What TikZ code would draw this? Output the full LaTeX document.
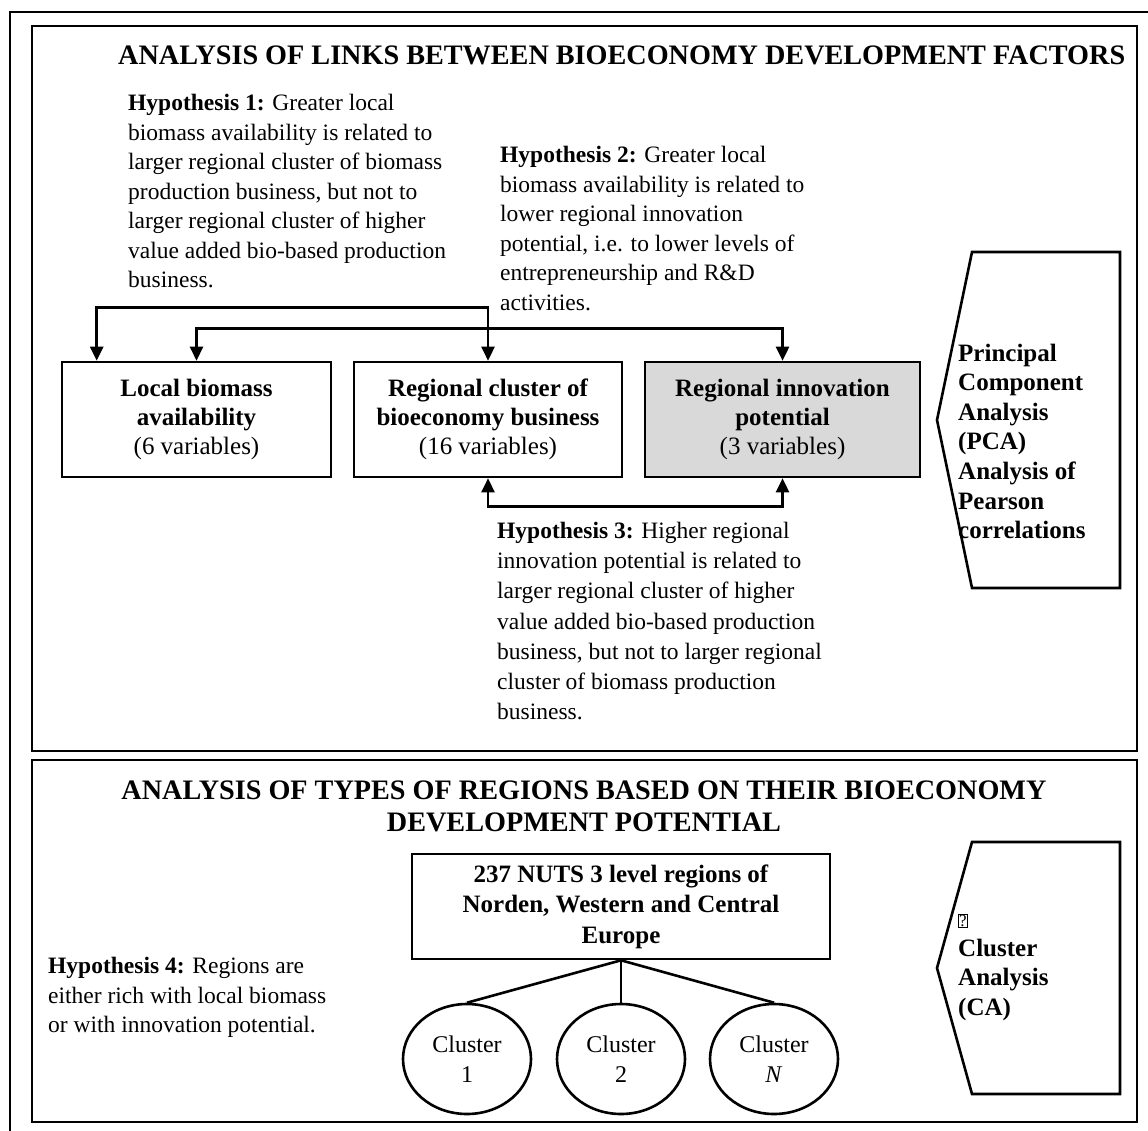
\documentclass[tikz,border=0pt]{standalone}
\usepackage{fontspec}
\setmainfont{Liberation Serif}
\usepackage{tikz}
\usetikzlibrary{arrows.meta,shapes,positioning}
\usepackage{xcolor}
\definecolor{bogray}{RGB}{217,217,217}
\newcommand{\txtsize}{\fontsize{23.5}{29.5}\selectfont}
\newcommand{\boxsize}{\fontsize{25}{28.8}\selectfont}
\newcommand{\mthsize}{\fontsize{25}{29.6}\selectfont}
\newcommand{\ttlsize}{\fontsize{28.2}{32}\selectfont}
\tikzstyle{arrow} = [line width=2.6pt,<->,>={Triangle[width=13pt,length=14pt]}]
\tikzstyle{panel} = [line width=2.6pt]
\tikzstyle{factor} = [rectangle, minimum width=268pt, minimum height=115pt, align=center, draw, line width=2.6pt, font=\boxsize\bfseries, inner sep=0pt]
\tikzstyle{hypo} = [anchor=north west, align=left, inner sep=0pt, font=\txtsize]
\tikzstyle{method} = [anchor=north west, align=left, inner sep=0pt, font=\mthsize\bfseries]
\tikzstyle{cluster} = [ellipse, draw, line width=2.6pt, minimum width=128pt, minimum height=110pt, inner sep=0pt, align=center, font=\fontsize{24}{29.5}\selectfont]
\tikzstyle{title} = [align=center, font=\ttlsize\bfseries, inner sep=0pt]

\begin{document}
\begin{tikzpicture}[x=1pt,y=-1pt]
\useasboundingbox (0,0) rectangle (1148,1131);
% Outer frame and the two panels
\draw[panel] (10,1140) -- (10,12) -- (1160,12);
\draw[panel] (32,26) rectangle (1137,751);
\draw[panel] (32,760) rectangle (1137,1122);

% Upper panel
\node[title, anchor=west] (ttl1) at (118,55) {ANALYSIS OF LINKS BETWEEN BIOECONOMY DEVELOPMENT FACTORS};
\node[hypo] (hyp1) at (128,94) {\textbf{Hypothesis 1:} Greater local\\biomass availability is related to\\larger regional cluster of biomass\\production business, but not to\\larger regional cluster of higher\\value added bio-based production\\business.};
\node[hypo] (hyp2) at (500,146) {\textbf{Hypothesis 2:} Greater local\\biomass availability is related to\\lower regional innovation\\potential, i.e. to lower levels of\\entrepreneurship and R\&D\\activities.};

% Three groups of factors
\node[factor, minimum width=269pt] (lba) at (196.5,419.5) {Local biomass\\availability\\{\mdseries (6 variables)}};
\node[factor, right of=lba, node distance=291.5pt] (rcb) {Regional cluster of\\bioeconomy business\\{\mdseries (16 variables)}};
\node[factor, right of=rcb, node distance=294.5pt, minimum width=275pt, fill=bogray] (rip) {Regional innovation\\potential\\{\mdseries (3 variables)}};

\draw[arrow] ([xshift=36pt]lba.north west) -- ++(0,-53) -| (rcb.north);
\draw[arrow] (lba.north) -- ++(0,-32) -| (rip.north);
\draw[arrow] (rcb.south) -- ++(0,28) -| (rip.south);

\node[hypo, font=\fontsize{23.5}{30.2}\selectfont] (hyp3) at (497,522) {\textbf{Hypothesis 3:} Higher regional\\innovation potential is related to\\larger regional cluster of higher\\value added bio-based production\\business, but not to larger regional\\cluster of biomass production\\business.};

% Methods
\draw[panel] (972,252) -- (1120,252) -- (1120,588) -- (972,588) -- (937,420) -- cycle;
\node[method] (pca) at (958,343.5) {Principal\\Component\\Analysis\\(PCA)\\Analysis of\\Pearson\\correlations};

% Lower panel
\node[title] (ttl2) at (584,806) {ANALYSIS OF TYPES OF REGIONS BASED ON THEIR BIOECONOMY\\DEVELOPMENT POTENTIAL};
\node[hypo] (hyp4) at (48,957) {\textbf{Hypothesis 4:} Regions are\\either rich with local biomass\\or with innovation potential.};

\node[factor, minimum width=418pt, minimum height=105pt, font=\fontsize{25}{30.5}\selectfont\bfseries] (nuts) at (621,906.5) {237 NUTS 3 level regions of\\Norden, Western and Central\\Europe};
\node[cluster] (cl1) at (467,1059) {Cluster\\1};
\node[cluster] (cl2) at (621,1059) {Cluster\\2};
\node[cluster] (cln) at (774,1059) {Cluster\\\textit{N}};
\draw[panel] (nuts.south) -- (cl1.north);
\draw[panel] (nuts.south) -- (cl2.north);
\draw[panel] (nuts.south) -- (cln.north);

\draw[panel] (972,842) -- (1120,842) -- (1120,1094) -- (972,1094) -- (937,968) -- cycle;
\node[method] (ca) at (958,910) {\rule{0pt}{16.5pt}{\fontsize{17}{17}\selectfont\mdseries\fboxsep=0.4pt\fboxrule=0.6pt\fbox{?}}\\Cluster\\Analysis\\(CA)};
\end{tikzpicture}
\end{document}
